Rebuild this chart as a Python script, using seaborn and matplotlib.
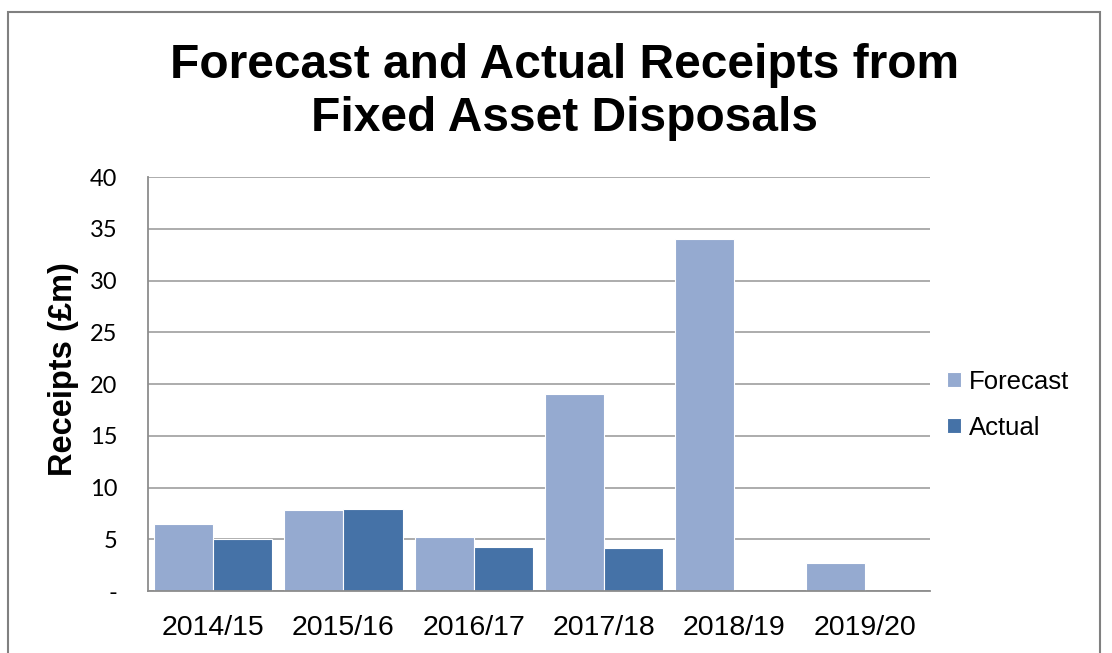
import matplotlib
matplotlib.use("Agg")
import matplotlib.pyplot as plt
from matplotlib.patches import Rectangle
import seaborn as sns
import pandas as pd

years = ["2014/15", "2015/16", "2016/17", "2017/18", "2018/19", "2019/20"]
forecast = [6.5, 7.8, 5.25, 19.0, 34.0, 2.7]
actual = [5.0, 7.95, 4.25, 4.2, 0.0, 0.0]
y_ticks = [0, 5, 10, 15, 20, 25, 30, 35, 40]
y_tick_labels = ["-", "5", "10", "15", "20", "25", "30", "35", "40"]

palette = {"Forecast": "#95AAD0", "Actual": "#4572A7"}

df = pd.DataFrame({
    "year": years * 2,
    "value": forecast + actual,
    "series": ["Forecast"] * len(years) + ["Actual"] * len(years),
})

sns.set_style("white")
plt.rcParams["font.family"] = ["Liberation Sans", "DejaVu Sans"]
plt.rcParams["text.color"] = "black"
plt.rcParams["axes.labelcolor"] = "black"
plt.rcParams["xtick.color"] = "black"
plt.rcParams["ytick.color"] = "black"

fig = plt.figure(figsize=(11.12, 6.53), dpi=100)
ax = fig.add_axes([0.1331, 0.0949, 0.7032, 0.634])

sns.barplot(data=df, x="year", y="value", hue="series", palette=palette,
            width=0.91, saturation=1, edgecolor="white", linewidth=0.8, ax=ax)

ax.set_ylim(0, 40)
ax.set_xlim(-0.5, len(years) - 0.5)
ax.set_yticks(y_ticks)
ax.set_yticklabels(y_tick_labels, fontfamily="Lato", fontsize=17)
ax.yaxis.grid(True, color="#A6A6A6", linewidth=1.3)
ax.set_axisbelow(True)
ax.tick_params(axis="x", labelsize=20.5, length=0, pad=17)
ax.tick_params(axis="y", length=0, pad=22)
ax.set_xlabel("")
ax.set_ylabel("Receipts (£m)", fontsize=23.5, fontweight="bold")
ax.yaxis.set_label_coords(-0.088, 0.537)

for side in ["top", "right"]:
    ax.spines[side].set_visible(False)
for side in ["left", "bottom"]:
    ax.spines[side].set_color("#8C8C8C")
    ax.spines[side].set_linewidth(1.3)

leg = ax.legend(loc="center left", bbox_to_anchor=(0.992, 0.45), frameon=False,
                fontsize=18.5, handlelength=0.55, handleheight=0.55,
                handletextpad=0.3, labelspacing=0.85)

fig.text(0.508, 0.859, "Forecast and Actual Receipts from\nFixed Asset Disposals",
         ha="center", va="center", fontsize=34.5, fontweight="bold",
         linespacing=1.25)

fig.patches.append(Rectangle((8 / 1112, -0.05), (1100 - 8) / 1112, 1.05 - 12 / 653,
                             transform=fig.transFigure, fill=False,
                             edgecolor="#808080", linewidth=1.5))

fig.savefig("out.png", dpi=100)
